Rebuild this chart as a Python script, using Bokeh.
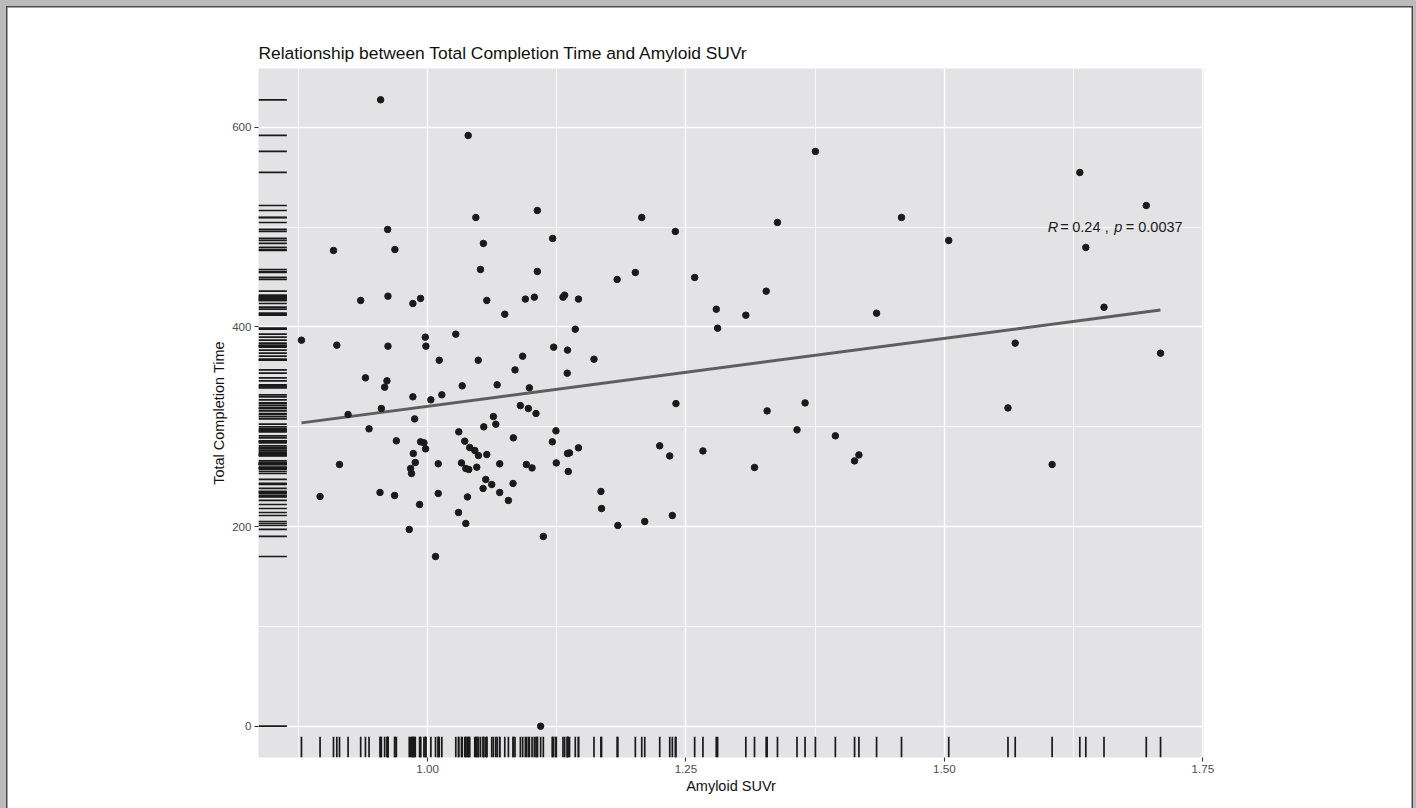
import numpy as np
from bokeh.plotting import figure
from bokeh.models import FixedTicker, PrintfTickFormatter, Label
from bokeh.embed import file_html
from bokeh.resources import INLINE

# ---------------- data ----------------
suvr = [0.9546, 1.0393, 1.1062, 1.0467, 0.9614, 1.1210, 0.9090, 0.9684, 1.0540, 1.0512,
        1.1062, 0.9353, 0.9617, 0.9858, 0.9932, 1.0573, 1.0747, 1.0946, 1.1033, 1.1310,
        1.1326, 1.1460, 1.1429, 0.8780, 0.9122, 0.9617, 0.9978, 0.9984, 1.0273, 1.0113,
        1.0490, 1.0920, 1.1220, 1.1354, 1.1351, 1.0846, 0.9399, 0.9607, 0.9585, 1.0335,
        1.0673, 1.0985, 0.9858, 1.0032, 1.0138, 0.9231, 0.9553, 0.9875, 1.0898, 1.0975,
        1.1049, 1.0637, 1.0660, 1.0544, 0.9434, 1.0302, 1.0830, 1.1242, 1.1207, 1.1460,
        0.9698, 0.9932, 0.9965, 0.9981, 1.0360, 1.0408, 1.0457, 1.0492, 1.0573, 0.9862,
        0.9881, 0.9836, 0.9845, 0.9148, 1.0103, 1.0328, 1.0370, 1.0399, 1.0476, 1.0698,
        1.0956, 1.1011, 1.1245, 1.1354, 1.1373, 1.1361, 1.0563, 1.0621, 1.0537, 1.0698,
        1.0827, 1.0782, 0.8960, 0.9540, 0.9681, 1.0103, 1.0386, 0.9923, 1.0299, 1.0370,
        0.9823, 1.1120, 1.0077, 1.1094, 1.3752, 1.2072, 1.2397, 1.3385, 1.2010, 1.1834,
        1.2584, 1.3276, 1.2793, 1.3079, 1.4344, 1.2806, 1.1610, 1.2403, 1.3285, 1.3652,
        1.3574, 1.3945, 1.4131, 1.4173, 1.2246, 1.2343, 1.2664, 1.3163, 1.1677, 1.1683,
        1.1841, 1.2101, 1.2368, 1.6310, 1.6953, 1.4585, 1.5042, 1.6368, 1.6544, 1.5685,
        1.7091, 1.5615, 1.6042]

completion_time = [627.6, 591.9, 516.7, 509.7, 497.7, 488.7, 476.6, 477.6, 483.7, 457.6,
                   455.6, 426.6, 430.9, 423.5, 428.6, 426.6, 412.8, 427.9, 429.9, 429.9,
                   431.9, 427.9, 397.8, 386.8, 381.8, 380.8, 389.8, 380.8, 392.8, 366.7,
                   366.7, 370.7, 379.8, 376.8, 353.7, 357.0, 349.0, 346.0, 339.7, 341.0,
                   342.0, 339.0, 330.0, 327.0, 332.0, 312.3, 318.3, 307.9, 321.2, 318.3,
                   313.3, 310.2, 302.6, 299.9, 297.9, 294.9, 288.9, 295.9, 284.9, 278.9,
                   285.9, 284.9, 283.9, 277.9, 285.6, 279.2, 276.2, 271.2, 272.2, 273.2,
                   264.2, 258.2, 253.2, 262.2, 262.9, 263.8, 258.2, 257.2, 259.5, 262.9,
                   262.2, 258.8, 263.8, 273.2, 273.8, 255.2, 247.2, 242.2, 238.2, 234.2,
                   243.2, 226.2, 230.2, 234.2, 231.2, 233.2, 229.7, 222.1, 214.1, 203.1,
                   197.1, 190.1, 170.0, 0.0, 575.9, 509.7, 495.7, 504.7, 454.6, 447.6,
                   449.6, 435.9, 417.8, 411.8, 413.8, 398.8, 367.7, 323.2, 315.9, 323.9,
                   296.9, 290.9, 265.8, 271.8, 280.9, 270.8, 275.8, 259.2, 235.2, 218.1,
                   201.1, 205.1, 211.1, 554.8, 521.7, 509.7, 486.7, 479.7, 419.8, 383.8,
                   373.7, 318.9, 262.2]

fit_x = [0.878, 1.709]
fit_y = [303.9, 417.1]

x_ticks = [1.00, 1.25, 1.50, 1.75]
x_minor = [0.875, 1.125, 1.375, 1.625]
y_ticks = [0, 200, 400, 600]
y_minor = [100, 300, 500]

title_text = "Relationship between Total Completion Time and Amyloid SUVr"
x_label = "Amyloid SUVr"
y_label = "Total Completion Time"

stat_x = 1.60
stat_y = 500
stat_parts = ["R", "=", "0.24", ",", "p", "=", "0.0037"]
stat_italic = [True, False, False, False, True, False, False]
stat_offsets = [0, 12.5, 24.5, 57, 66.5, 78, 90.5]

# ---------------- ranges (ggplot-like 5% expansion) ----------------
xmin, xmax = min(suvr), max(suvr)
ymin, ymax = min(completion_time), max(completion_time)
xpad = 0.05 * (xmax - xmin)
ypad = 0.05 * (ymax - ymin)
x0, x1 = xmin - xpad, xmax + xpad
y0, y1 = ymin - ypad, ymax + ypad

FONT = "Liberation Sans"

p = figure(width=1416, height=808, x_range=(x0, x1), y_range=(y0, y1),
           output_backend="svg", toolbar_location=None,
           min_border_left=258, min_border_right=213,
           min_border_top=68, min_border_bottom=51)

p.background_fill_color = "#E3E3E5"
p.border_fill_color = None
p.outline_line_color = None
# picture frame of the reference (grey band + dark rule at top/left/right)
p.styles = {
    "background-color": "white",
    "box-shadow": ("inset 6px 6px 0 0 #BBBBBD, inset -3px 0 0 0 #BBBBBD, "
                   "inset 7.5px 7.5px 0 0 #4A4A4A, inset -4.5px 0 0 0 #4A4A4A"),
}

# grid
for g in (p.xgrid, p.ygrid):
    g.grid_line_color = "white"
    g.grid_line_width = 1.4
    g.minor_grid_line_color = "white"
    g.minor_grid_line_width = 0.7

p.xaxis.ticker = FixedTicker(ticks=x_ticks, minor_ticks=x_minor)
p.yaxis.ticker = FixedTicker(ticks=y_ticks, minor_ticks=y_minor)
p.xaxis.formatter = PrintfTickFormatter(format="%.2f")
p.yaxis.formatter = PrintfTickFormatter(format="%d")

for ax in (p.xaxis, p.yaxis):
    ax.axis_line_color = None
    ax.major_tick_line_color = "#333333"
    ax.major_tick_line_width = 1.1
    ax.major_tick_out = 4
    ax.major_tick_in = 0
    ax.minor_tick_line_color = None
    ax.major_label_text_font = FONT
    ax.major_label_text_font_size = "11.6px"
    ax.major_label_text_color = "#4D4D4D"
    ax.major_label_standoff = 3
    ax.axis_label_text_font = FONT
    ax.axis_label_text_font_size = "14.5px"
    ax.axis_label_text_font_style = "normal"
    ax.axis_label_text_color = "#111111"

p.xaxis.axis_label_standoff = 2
p.yaxis.axis_label_standoff = 2
p.xaxis.axis_label = x_label
p.yaxis.axis_label = y_label

p.title.text = title_text
p.title.text_font = FONT
p.title.text_font_size = "17.4px"
p.title.text_font_style = "normal"
p.title.text_color = "#111111"
p.title.standoff = 12

# rugs
rx = 0.03 * (x1 - x0)
ry = 0.03 * (y1 - y0)
p.segment(x0=suvr, y0=[y0] * len(suvr), x1=suvr, y1=[y0 + ry] * len(suvr),
          line_color="#1A1A1A", line_width=1.7)
p.segment(x0=[x0] * len(completion_time), y0=completion_time,
          x1=[x0 + rx] * len(completion_time), y1=completion_time,
          line_color="#1A1A1A", line_width=1.7)

# regression line
p.line(fit_x, fit_y, line_color="#5E5E5E", line_width=3)

# points
p.scatter(suvr, completion_time, size=6.5, fill_color="#1A1A1A", line_color="#1A1A1A")

# correlation label
for txt, it, off in zip(stat_parts, stat_italic, stat_offsets):
    p.add_layout(Label(x=stat_x, y=stat_y, text=txt, x_offset=off,
                       text_font=FONT, text_font_size="14.5px",
                       text_font_style="italic" if it else "normal",
                       text_color="#1A1A1A", text_align="left",
                       text_baseline="middle"))

open("out.html", "w").write(file_html(p, INLINE))
